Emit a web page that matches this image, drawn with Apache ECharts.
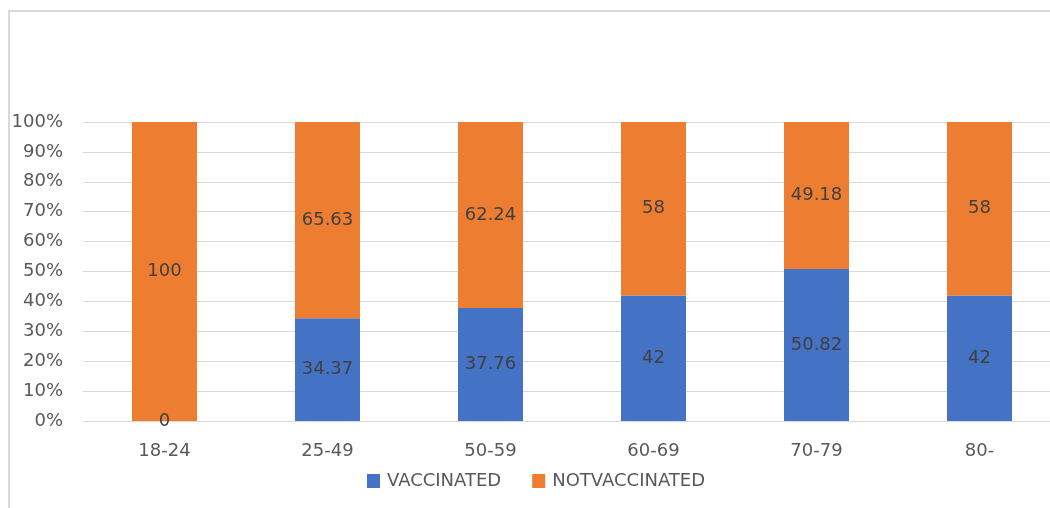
<!DOCTYPE html>
<html>
<head>
<meta charset="utf-8">
<script src="https://cdn.jsdelivr.net/npm/echarts@6/dist/echarts.min.js"></script>
<style>
  html, body { margin: 0; padding: 0; background: #fff; overflow: hidden; }
  #chart { width: 1080px; height: 508px; }
</style>
</head>
<body>
<div id="chart"></div>
<script>
// Age groups and vaccination shares (percent of each group)
const categories = ['18-24', '25-49', '50-59', '60-69', '70-79', '80-'];
const vaccinated = [0, 34.37, 37.76, 42, 50.82, 42];
const notVaccinated = [100, 65.63, 62.24, 58, 49.18, 58];
const seriesNames = ['VACCINATED', 'NOTVACCINATED'];

const FONT = 'DejaVu Sans';
const chart = echarts.init(document.getElementById('chart'));

const labelStyle = {
  show: true,
  position: 'inside',
  color: '#404040',
  fontSize: 18,
  fontFamily: FONT
};

chart.setOption({
  animation: false,
  textStyle: { fontFamily: FONT },
  graphic: [
    {
      // chart frame: left and top edges
      type: 'polyline',
      shape: { points: [[9, 508], [9, 11], [1080, 11]] },
      style: { stroke: '#d9d9d9', lineWidth: 2, fill: null }
    }
  ],
  grid: { left: 83, top: 122, width: 978, height: 299, containLabel: false },
  legend: {
    data: seriesNames,
    left: 362,
    top: 467,
    itemWidth: 13,
    itemHeight: 14,
    itemGap: 31,
    icon: 'rect',
    textStyle: { color: '#595959', fontSize: 18, fontFamily: FONT, padding: [0, 0, 0, 2] }
  },
  xAxis: {
    type: 'category',
    data: categories,
    axisLine: { lineStyle: { color: '#d9d9d9', width: 1 } },
    axisTick: { show: false },
    axisLabel: { color: '#595959', fontSize: 18, fontFamily: FONT, margin: 21 }
  },
  yAxis: {
    type: 'value',
    min: 0,
    max: 100,
    interval: 10,
    axisLine: { show: false },
    axisTick: { show: false },
    splitLine: { lineStyle: { color: '#d9d9d9', width: 1 } },
    axisLabel: {
      color: '#595959',
      fontSize: 18,
      fontFamily: FONT,
      margin: 20,
      formatter: v => v + '%'
    }
  },
  series: [
    {
      name: seriesNames[0],
      type: 'bar',
      stack: 'share',
      data: vaccinated,
      barWidth: 65,
      itemStyle: { color: '#4472C4' },
      label: labelStyle
    },
    {
      name: seriesNames[1],
      type: 'bar',
      stack: 'share',
      data: notVaccinated,
      barWidth: 65,
      itemStyle: { color: '#ED7D31' },
      label: labelStyle
    }
  ]
});
</script>
</body>
</html>
